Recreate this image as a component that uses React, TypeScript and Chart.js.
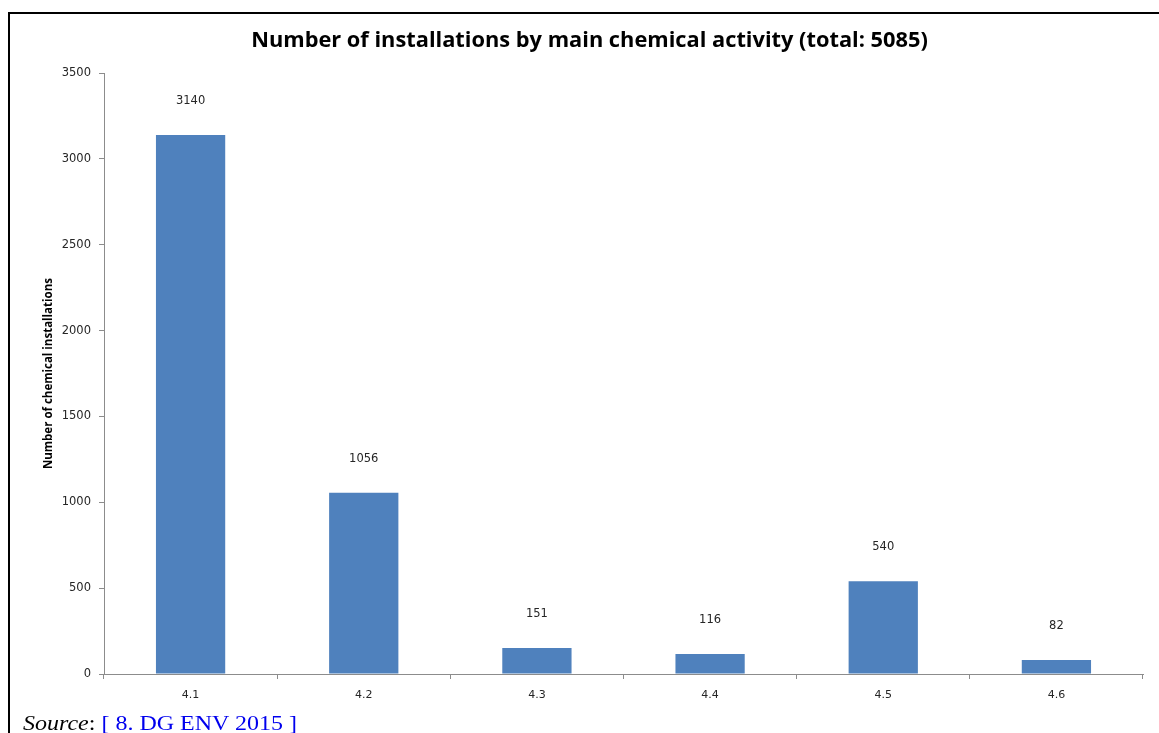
import React, { useEffect, useRef } from "react";
import { Chart, registerables } from "chart.js";

Chart.register(...registerables);

const categories = ["4.1", "4.2", "4.3", "4.4", "4.5", "4.6"];
const installations = [3140, 1056, 151, 116, 540, 82];
const yTicks = [0, 500, 1000, 1500, 2000, 2500, 3000, 3500];
const chartTitle = "Number of installations by main chemical activity (total: 5085)";
const yAxisTitle = "Number of chemical installations";

const TITLE_FONT = "'Open Sans', Lato, sans-serif";
const SMALL_FONT = "'DejaVu Sans', sans-serif";
const AXIS_GREY = "#8c8c8c";
const TEXT_DARK = "#262626";

const valueLabels = {
  id: "valueLabels",
  afterDatasetsDraw(chart: any) {
    const ctx = chart.ctx;
    const meta = chart.getDatasetMeta(0);
    ctx.save();
    ctx.font = `11.5px ${SMALL_FONT}`;
    ctx.fillStyle = TEXT_DARK;
    ctx.textAlign = "center";
    ctx.textBaseline = "middle";
    meta.data.forEach((el: any, i: number) => {
      ctx.fillText(String(chart.data.datasets[0].data[i]), el.x, el.y - 34);
    });
    ctx.restore();
  },
};

export default function App() {
  const ref = useRef<HTMLCanvasElement | null>(null);

  useEffect(() => {
    if (!ref.current) return;
    const chart = new Chart(ref.current, {
      type: "bar",
      data: {
        labels: categories,
        datasets: [
          {
            data: installations,
            backgroundColor: "#4F81BD",
            borderWidth: 0,
            categoryPercentage: 1,
            barPercentage: 0.4,
          },
        ],
      },
      options: {
        animation: false,
        responsive: false,
        maintainAspectRatio: false,
        layout: { padding: { left: 36, right: 16, top: 0, bottom: 29 } },
        plugins: {
          legend: { display: false },
          tooltip: { enabled: false },
          title: {
            display: true,
            text: chartTitle,
            color: "#000",
            font: { family: TITLE_FONT, size: 21.8, weight: "bold" },
            padding: { top: 28, bottom: 19 },
          },
        },
        scales: {
          x: {
            grid: {
              display: true,
              drawOnChartArea: false,
              drawTicks: true,
              tickLength: 5,
              color: AXIS_GREY,
              offset: true,
            },
            border: { color: AXIS_GREY, width: 1 },
            ticks: {
              color: TEXT_DARK,
              font: { family: SMALL_FONT, size: 11 },
              padding: 10,
              maxRotation: 0,
            },
            afterFit(scale: any) {
              scale.height = 30;
            },
          },
          y: {
            min: 0,
            max: 3500,
            afterBuildTicks(scale: any) {
              scale.ticks = yTicks.map((v) => ({ value: v }));
            },
            grid: {
              display: true,
              drawOnChartArea: false,
              drawTicks: true,
              tickLength: 5,
              color: AXIS_GREY,
            },
            border: { color: AXIS_GREY, width: 1 },
            ticks: {
              color: TEXT_DARK,
              font: { family: SMALL_FONT, size: 11.5 },
              padding: 8,
              callback: (v: any) => String(v),
            },
            title: {
              display: true,
              text: yAxisTitle,
              color: "#000",
              font: { family: TITLE_FONT, size: 11.5, weight: "bold" },
              padding: { top: 6, bottom: 0 },
            },
            afterFit(scale: any) {
              scale.width = 68;
            },
          },
        },
      },
      plugins: [valueLabels],
    });
    return () => chart.destroy();
  }, []);

  return (
    <div
      style={{
        position: "absolute",
        left: 0,
        top: 0,
        width: 1159,
        height: 733,
        overflow: "hidden",
        background: "#fff",
      }}
    >
      <div
        style={{
          position: "absolute",
          left: 8,
          top: 12,
          width: 1200,
          height: 800,
          borderTop: "2px solid #000",
          borderLeft: "2px solid #000",
        }}
      />
      <canvas
        ref={ref}
        width={1159}
        height={733}
        style={{ position: "absolute", left: 0, top: 0, width: 1159, height: 733 }}
      />
      <div
        style={{
          position: "absolute",
          left: 23,
          top: 713,
          fontFamily: "'Liberation Serif', 'Times New Roman', serif",
          fontSize: 20,
          lineHeight: "20px",
          whiteSpace: "nowrap",
          color: "#000",
          transform: "scaleX(1.2)",
          transformOrigin: "0 0",
        }}
      >
        <i>Source</i>: <span style={{ color: "#0000ee" }}>[ 8. DG ENV 2015 ]</span>
      </div>
    </div>
  );
}
